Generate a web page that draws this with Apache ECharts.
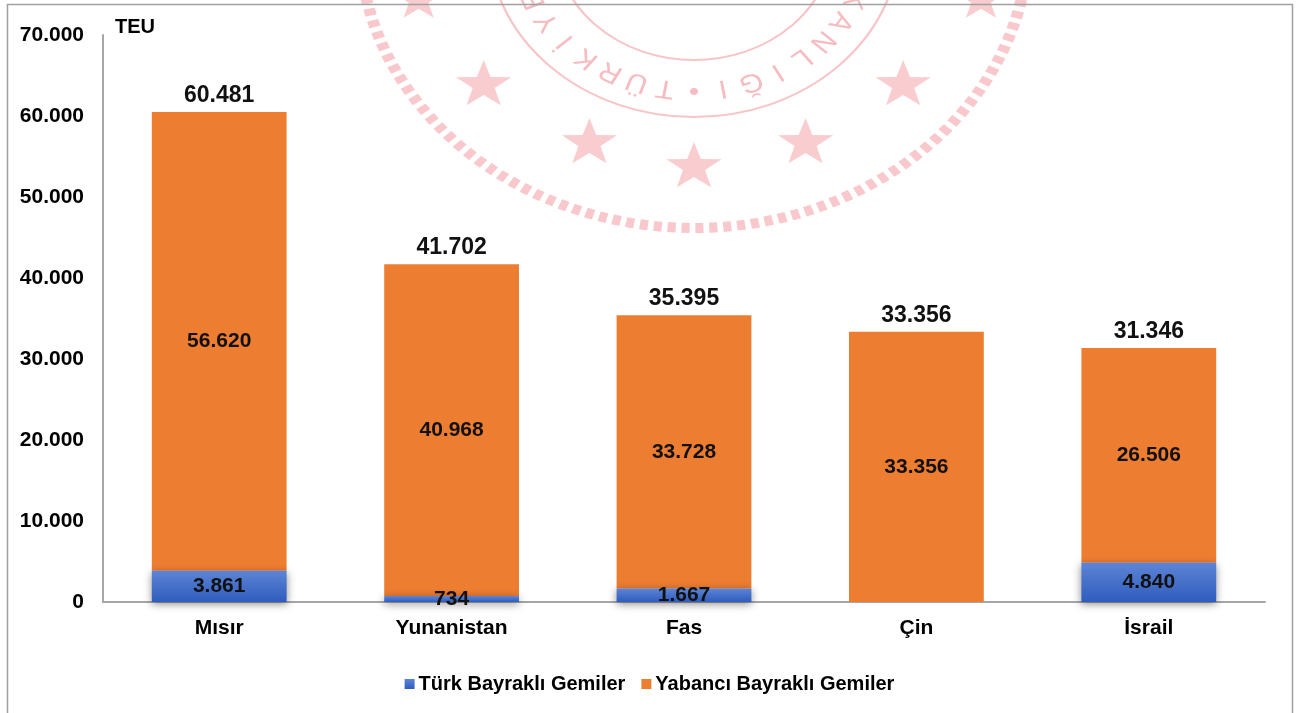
<!DOCTYPE html>
<html>
<head>
<meta charset="utf-8">
<script src="https://cdn.jsdelivr.net/npm/echarts@6/dist/echarts.min.js"></script>
<style>
  html, body { margin: 0; padding: 0; background: #fff; }
  #chart { width: 1299px; height: 713px; }
</style>
</head>
<body>
<div id="chart"></div>
<script>
// ülkeler ve değerler (TEU)
const countries = ["Mısır", "Yunanistan", "Fas", "Çin", "İsrail"];
const turkFlag = [3861, 734, 1667, 0, 4840];
const foreignFlag = [56620, 40968, 33728, 33356, 26506];
const totals = [60481, 41702, 35395, 33356, 31346];
const yTicks = [0, 10000, 20000, 30000, 40000, 50000, 60000, 70000];

const font = "'Liberation Sans', Arial, sans-serif";
const fmt = (v) => String(v).replace(/\B(?=(\d{3})+(?!\d))/g, ".");

// arka plandaki soluk mühür (sadece süs, veriyle ilgisi yok)
const star = (cx, cy, r) => {
  const pts = [];
  for (let i = 0; i < 10; i++) {
    const a = -Math.PI / 2 + (i * Math.PI) / 5;
    const rr = i % 2 ? r * 0.4 : r;
    pts.push([cx + rr * Math.cos(a), cy + rr * Math.sin(a)]);
  }
  return { type: "polygon", shape: { points: pts }, style: { fill: "#f9cdd0" } };
};
const ringText = "KANLIĞI•TÜRKİYE".split("");
const letters = ringText.map((ch, i) => {
  const t = ((23.5 + i * 9.5) * Math.PI) / 180;
  const r = 150;
  return {
    type: "text",
    x: r * Math.cos(t),
    y: r * Math.sin(t),
    rotation: -(t + Math.PI / 2),
    style: {
      text: ch,
      fill: "#f6bcc0",
      font: "26px 'Liberation Sans', Arial, sans-serif",
      align: "center",
      verticalAlign: "middle",
    },
  };
});
const stamp = {
  type: "group",
  x: 694,
  y: -60,
  scaleX: 1.162,
  z: 0,
  silent: true,
  children: [
    {
      type: "arc",
      shape: { cx: 0, cy: 0, r: 288, startAngle: 0, endAngle: Math.PI, clockwise: true },
      style: { stroke: "#f8c8cc", lineWidth: 10, lineDash: [7, 5], fill: "none" },
    },
    {
      type: "arc",
      shape: { cx: 0, cy: 0, r: 177, startAngle: 0, endAngle: Math.PI, clockwise: true },
      style: { stroke: "#f8c4c8", lineWidth: 2, fill: "none" },
    },
    {
      type: "arc",
      shape: { cx: 0, cy: 0, r: 120, startAngle: 0, endAngle: Math.PI, clockwise: true },
      style: { stroke: "#f8c4c8", lineWidth: 2, fill: "none" },
    },
    star(-181, 145, 25),
    star(-90, 203, 25),
    star(0, 227, 25),
    star(96, 203, 25),
    star(180, 145, 25),
    star(-237, 60, 22),
    star(247, 60, 22),
    ...letters,
  ],
};

const chart = echarts.init(document.getElementById("chart"));

const option = {
  backgroundColor: "#fff",
  animation: false,
  textStyle: { fontFamily: font },
  graphic: [
    stamp,
    {
      type: "rect",
      shape: { x: 7.5, y: 4.5, width: 1285, height: 720 },
      style: { fill: "none", stroke: "#a0a0a0", lineWidth: 1.5 },
    },
  ],
  grid: { left: 103, right: 34, top: 35, bottom: 111 },
  legend: {
    bottom: 14,
    left: "center",
    itemWidth: 10,
    itemHeight: 10,
    itemGap: 16,
    icon: "rect",
    data: ["Türk Bayraklı Gemiler", "Yabancı Bayraklı Gemiler"],
    textStyle: { fontSize: 20, fontWeight: "bold", color: "#000", fontFamily: font, padding: [0, 0, 0, -1] },
  },
  xAxis: {
    type: "category",
    data: countries,
    axisLine: { lineStyle: { color: "#a6a6a6", width: 2 } },
    axisTick: { show: false },
    axisLabel: { fontSize: 21, fontWeight: "bold", color: "#000", margin: 16, fontFamily: font },
  },
  yAxis: {
    type: "value",
    min: yTicks[0],
    max: yTicks[yTicks.length - 1],
    interval: 10000,
    name: "TEU",
    nameLocation: "end",
    nameGap: 8,
    nameTextStyle: {
      fontSize: 20, fontWeight: "bold", color: "#000", align: "left",
      verticalAlign: "middle", padding: [0, 0, 0, 12], fontFamily: font,
    },
    axisLine: { show: true, lineStyle: { color: "#a6a6a6", width: 2 } },
    axisTick: { show: false },
    splitLine: { show: false },
    axisLabel: { fontSize: 21, fontWeight: "bold", color: "#000", margin: 19, formatter: fmt, fontFamily: font },
  },
  series: [
    {
      name: "Türk Bayraklı Gemiler",
      type: "bar",
      stack: "t",
      barWidth: "58%",
      data: turkFlag,
      itemStyle: {
        color: new echarts.graphic.LinearGradient(0, 0, 0, 1, [
          { offset: 0, color: "#5d84d6" },
          { offset: 1, color: "#2e5dbd" },
        ]),
        shadowBlur: 8,
        shadowColor: "rgba(0,0,0,0.45)",
        shadowOffsetY: 2,
      },
      label: {
        show: true,
        position: "inside",
        fontSize: 21,
        fontWeight: "bold",
        color: "#111",
        fontFamily: font,
        formatter: (p) => (p.value ? fmt(p.value) : ""),
      },
      z: 3,
    },
    {
      name: "Yabancı Bayraklı Gemiler",
      type: "bar",
      stack: "t",
      data: foreignFlag,
      itemStyle: { color: "#ED7D31" },
      label: {
        show: true,
        position: "inside",
        fontSize: 21,
        fontWeight: "bold",
        color: "#111",
        fontFamily: font,
        formatter: (p) => fmt(p.value),
      },
      z: 2,
    },
    {
      name: "Toplam",
      type: "bar",
      stack: "t",
      data: totals.map(() => 0),
      itemStyle: { color: "transparent" },
      label: {
        show: true,
        position: "top",
        distance: 5,
        fontSize: 23,
        fontWeight: "bold",
        color: "#111",
        fontFamily: font,
        formatter: (p) => fmt(totals[p.dataIndex]),
      },
    },
  ],
};

chart.setOption(option);
</script>
</body>
</html>
